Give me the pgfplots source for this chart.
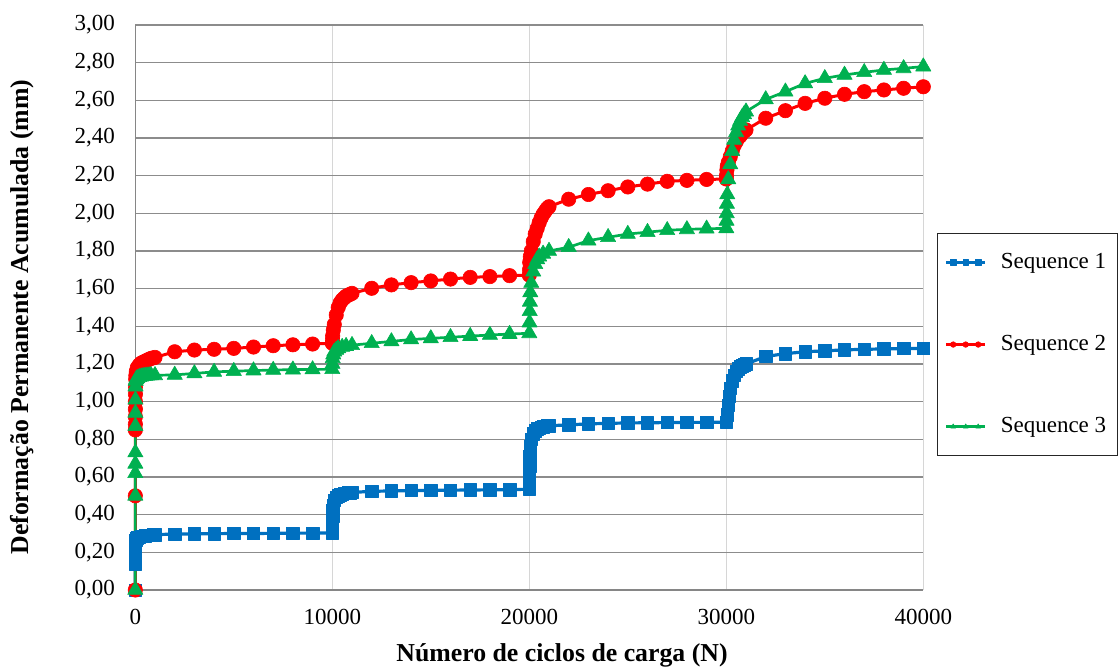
\documentclass[border=0pt]{standalone}
\usepackage{fontspec}
\setmainfont{Liberation Serif}
\usepackage{pgfplots}
\pgfplotsset{compat=1.18}
\usetikzlibrary{calc}
\definecolor{sblue}{HTML}{0070C0}
\definecolor{sred}{HTML}{FF0000}
\definecolor{sgreen}{HTML}{00B050}
\definecolor{hgrid}{HTML}{8C8C8C}
\definecolor{vgrid}{HTML}{D6D6D6}
\definecolor{axgray}{HTML}{868686}

\pgfplotstableread{
x y
0 0
1 0.14
2 0.17
3 0.20
5 0.23
10 0.25
20 0.265
50 0.272
100 0.277
200 0.281
300 0.284
400 0.286
500 0.288
600 0.290
700 0.291
800 0.292
900 0.293
1000 0.294
2000 0.297
3000 0.298
4000 0.299
5000 0.300
6000 0.300
7000 0.301
8000 0.302
9000 0.302
10000 0.303
10010 0.35
10020 0.39
10030 0.42
10050 0.45
10100 0.475
10200 0.492
10300 0.500
10400 0.505
10500 0.509
10600 0.512
10700 0.514
10800 0.516
10900 0.517
11000 0.518
12000 0.524
13000 0.526
14000 0.528
15000 0.529
16000 0.530
17000 0.531
18000 0.532
19000 0.533
20000 0.535
20005 0.57
20010 0.61
20020 0.66
20030 0.71
20050 0.76
20100 0.80
20200 0.83
20300 0.845
20400 0.855
20500 0.860
20600 0.864
20700 0.867
20800 0.869
20900 0.871
21000 0.872
22000 0.877
23000 0.882
24000 0.885
25000 0.887
26000 0.888
27000 0.889
28000 0.890
29000 0.890
30000 0.891
30050 0.93
30100 0.98
30150 1.03
30200 1.07
30300 1.11
30400 1.14
30500 1.16
30600 1.175
30700 1.185
30800 1.19
30900 1.195
31000 1.20
32000 1.24
33000 1.255
34000 1.265
35000 1.27
36000 1.275
37000 1.278
38000 1.28
39000 1.282
40000 1.283
}\seqone

\pgfplotstableread{
x y
0 0
1 0.50
2 0.85
3 0.88
4 0.92
5 0.96
6 1.00
8 1.04
10 1.08
20 1.12
30 1.14
50 1.16
100 1.18
200 1.195
300 1.205
400 1.21
500 1.215
600 1.22
700 1.225
800 1.23
900 1.232
1000 1.235
2000 1.265
3000 1.274
4000 1.278
5000 1.283
6000 1.290
7000 1.297
8000 1.302
9000 1.306
10000 1.310
10010 1.33
10020 1.35
10050 1.38
10100 1.41
10200 1.46
10300 1.50
10400 1.525
10500 1.54
10600 1.55
10700 1.56
10800 1.565
10900 1.57
11000 1.575
12000 1.602
13000 1.620
14000 1.632
15000 1.641
16000 1.651
17000 1.660
18000 1.664
19000 1.669
20000 1.672
20010 1.70
20020 1.74
20050 1.77
20100 1.80
20200 1.85
20300 1.89
20400 1.92
20500 1.95
20600 1.975
20700 1.995
20800 2.01
20900 2.025
21000 2.035
22000 2.075
23000 2.10
24000 2.12
25000 2.14
26000 2.155
27000 2.17
28000 2.175
29000 2.18
30000 2.182
30010 2.20
30030 2.23
30050 2.25
30100 2.27
30200 2.30
30300 2.33
30400 2.36
30500 2.38
30600 2.40
30700 2.41
30800 2.425
30900 2.435
31000 2.443
32000 2.505
33000 2.545
34000 2.584
35000 2.611
36000 2.632
37000 2.646
38000 2.655
39000 2.664
40000 2.672
}\seqtwo

\pgfplotstableread{
x y
0 0
1 0.50
2 0.62
3 0.67
4 0.73
5 0.87
6 0.94
8 1.01
10 1.08
20 1.11
50 1.12
100 1.125
200 1.13
300 1.133
400 1.135
500 1.137
600 1.138
700 1.139
800 1.14
1000 1.14
2000 1.142
3000 1.15
4000 1.158
5000 1.162
6000 1.165
7000 1.168
8000 1.170
9000 1.171
10000 1.172
10010 1.20
10020 1.23
10050 1.25
10100 1.265
10200 1.275
10300 1.283
10500 1.29
10700 1.295
11000 1.30
12000 1.31
13000 1.32
14000 1.33
15000 1.336
16000 1.342
17000 1.348
18000 1.354
19000 1.359
20000 1.363
20010 1.42
20020 1.48
20030 1.53
20050 1.58
20100 1.63
20200 1.69
20300 1.73
20400 1.755
20500 1.77
20700 1.785
21000 1.80
22000 1.82
23000 1.855
24000 1.873
25000 1.89
26000 1.90
27000 1.91
28000 1.915
29000 1.918
30000 1.92
30010 1.96
30020 2.00
30030 2.05
30050 2.10
30100 2.18
30200 2.26
30300 2.33
30400 2.39
30500 2.43
30600 2.465
30700 2.49
30800 2.51
30900 2.525
31000 2.54
32000 2.605
33000 2.646
34000 2.69
35000 2.717
36000 2.735
37000 2.749
38000 2.761
39000 2.77
40000 2.779
}\seqthree

\begin{document}
\fontsize{11.5}{14}\selectfont
\begin{tikzpicture}
\begin{axis}[
  name=ax,
  scale only axis,
  width=394pt, height=282.5pt,
  xmin=0, xmax=40000, ymin=0, ymax=3,
  clip=false,
  axis x line*=bottom, axis y line*=left,
  axis line style={draw=axgray, line width=0.65pt},
  xtick={0,10000,20000,30000,40000},
  ytick={0,0.2,0.4,0.6,0.8,1,1.2,1.4,1.6,1.8,2,2.2,2.4,2.6,2.8,3},
  scaled x ticks=false,
  major tick length=0pt,
  /pgf/number format/assume math mode=true,
  xticklabel style={/pgf/number format/.cd, fixed, precision=0, 1000 sep={}, /tikz/.cd, yshift=-5.7pt},
  yticklabel style={/pgf/number format/.cd, fixed, fixed zerofill, precision=2, use comma, /tikz/.cd, xshift=-6.2pt},
  xmajorgrids, ymajorgrids,
  major x grid style={draw=vgrid, line width=0.55pt},
  major y grid style={draw=hgrid, line width=0.55pt},
  xlabel={Número de ciclos de carga (N)},
  ylabel={Deformação Permanente Acumulada (mm)},
  label style={font=\fontsize{12.9}{15}\selectfont\bfseries},
  xlabel style={at={(axis description cs:0.5415,-0.115)}, anchor=center},
  ylabel style={at={(axis description cs:-0.1434,0.483)}, anchor=center},
  legend cell align=left,
  legend style={at={(axis description cs:1,0.632)}, anchor=north west, xshift=6.85pt,
    draw=black!85, line width=0.6pt, inner xsep=3.5pt, inner ysep=7.75pt,
    row sep=27.75pt, nodes={inner sep=2pt}},
  legend image code/.code={
    \draw[#1,mark=none] (0pt,0pt) -- (19.5pt,0pt);
    \draw[#1,mark size=1.4pt,only marks] plot coordinates {(3.5pt,0pt)(9.75pt,0pt)(16pt,0pt)};
    \path (24.5pt,0pt);
  },
]
\addplot[color=sblue, line width=1.6pt, line join=round, mark=square*, mark size=3.1pt, mark options={solid, line width=0.3pt}] table[x=x,y=y] {\seqone};
\addlegendentry{Sequence 1}
\addplot[color=sred, line width=1.5pt, line join=round, mark=*, mark size=3.6pt, mark options={solid, line width=0.3pt}] table[x=x,y=y] {\seqtwo};
\addlegendentry{Sequence 2}
\addplot[color=sgreen, line width=1.35pt, line join=round, mark=triangle*, mark size=4.4pt, mark options={solid, line width=0.3pt}] table[x=x,y=y] {\seqthree};
\addlegendentry{Sequence 3}
\end{axis}
\pgfresetboundingbox
\path ($(ax.south west)+(-67.65pt,-39pt)$) rectangle ($(ax.north east)+(97.85pt,12.5pt)$);
\end{tikzpicture}
\end{document}
